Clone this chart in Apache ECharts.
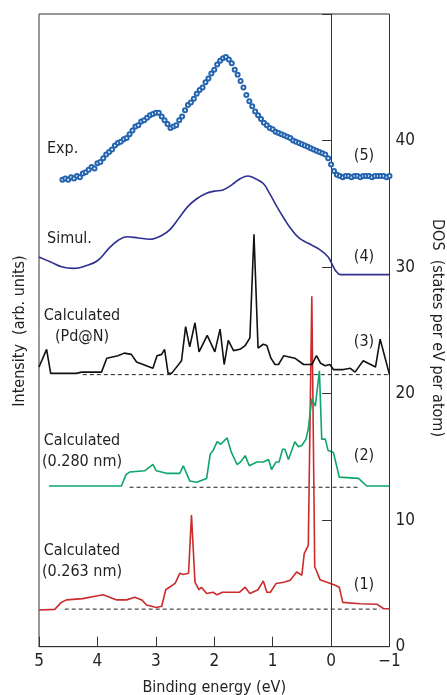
<!DOCTYPE html>
<html>
<head>
<meta charset="utf-8">
<script src="https://cdn.jsdelivr.net/npm/echarts@6/dist/echarts.min.js"></script>
<style>
html,body{margin:0;padding:0;background:#fff;}
#chart{width:447px;height:695px;}
</style>
</head>
<body>
<div id="chart"></div>
<script>
// ---------- DATA ----------
const xTicks = [5, 4, 3, 2, 1, 0, -1];
const yTicks = [0, 10, 20, 30, 40];

// (5) Experimental
const expX = [4.60,4.55,4.50,4.45,4.40,4.35,4.30,4.25,4.20,4.15,4.10,4.05,4.00,3.95,3.90,3.85,3.80,3.75,3.70,3.65,3.60,3.55,3.50,3.45,3.40,3.35,3.30,3.25,3.20,3.15,3.10,3.05,3.00,2.95,2.90,2.85,2.80,2.75,2.70,2.65,2.60,2.55,2.50,2.45,2.40,2.35,2.30,2.25,2.20,2.15,2.10,2.05,2.00,1.95,1.90,1.85,1.80,1.75,1.70,1.65,1.60,1.55,1.50,1.45,1.40,1.35,1.30,1.25,1.20,1.15,1.10,1.05,1.00,0.95,0.90,0.85,0.80,0.75,0.70,0.65,0.60,0.55,0.50,0.45,0.40,0.35,0.30,0.25,0.20,0.15,0.10,0.05,0.00,-0.05,-0.10,-0.15,-0.20,-0.25,-0.30,-0.35,-0.40,-0.45,-0.50,-0.55,-0.60,-0.65,-0.70,-0.75,-0.80,-0.85,-0.90,-0.95,-1.00];
const expY = [36.9,37.0,36.9,37.1,37.0,37.2,37.1,37.4,37.5,37.7,37.9,37.8,38.2,38.3,38.6,38.9,39.1,39.3,39.6,39.8,39.9,40.1,40.2,40.5,40.8,41.1,41.2,41.5,41.6,41.8,42.0,42.1,42.2,42.2,41.9,41.6,41.3,41.0,41.1,41.2,41.6,41.9,42.4,42.8,43.0,43.3,43.7,44.0,44.2,44.6,44.9,45.3,45.6,46.0,46.3,46.5,46.6,46.4,46.1,45.6,45.2,44.7,44.2,43.6,43.1,42.7,42.3,42.0,41.7,41.4,41.2,41.0,40.9,40.7,40.6,40.5,40.4,40.3,40.2,40.0,39.9,39.8,39.7,39.6,39.5,39.4,39.3,39.2,39.1,39.0,38.9,38.6,38.1,37.6,37.3,37.2,37.1,37.2,37.2,37.1,37.2,37.2,37.1,37.2,37.2,37.2,37.1,37.2,37.2,37.2,37.2,37.1,37.2];

// (4) Simulated
const simX = [5.0,4.8,4.6,4.4,4.2,4.0,3.8,3.65,3.5,3.3,3.1,2.9,2.75,2.6,2.45,2.3,2.15,2.0,1.85,1.7,1.55,1.42,1.3,1.16,1.05,0.93,0.8,0.7,0.55,0.4,0.2,0.05,-0.02,-0.08,-0.16,-0.3,-1.0];
const simY = [30.8,30.4,30.0,29.9,30.1,30.5,31.5,32.1,32.4,32.3,32.2,32.5,33.0,33.9,34.8,35.4,35.8,36.0,36.1,36.5,37.0,37.2,37.0,36.6,35.8,34.8,33.8,33.1,32.3,31.9,31.4,30.8,30.2,29.7,29.4,29.4,29.4];

// (3) Calculated (Pd@N)
const pdnX = [5.0,4.87,4.80,4.36,4.27,3.93,3.84,3.65,3.54,3.42,3.33,3.05,2.98,2.90,2.85,2.79,2.73,2.56,2.49,2.42,2.33,2.26,2.12,1.99,1.90,1.83,1.76,1.67,1.56,1.47,1.39,1.32,1.25,1.16,1.10,1.03,0.96,0.90,0.81,0.62,0.47,0.33,0.25,0.18,0.10,0.02,-0.04,-0.21,-0.33,-0.41,-0.55,-0.76,-0.84,-1.0];
const pdnY = [22.1,23.5,21.6,21.6,21.7,21.7,22.8,23.0,23.2,23.1,22.5,22.0,23.0,23.1,23.5,21.6,21.6,22.6,25.3,23.7,25.6,23.3,24.6,23.3,25.1,22.3,24.2,23.4,23.5,23.8,24.4,32.6,23.6,23.9,23.8,22.8,22.3,22.3,23.0,22.8,22.3,22.3,23.0,22.4,22.2,22.3,21.9,21.9,22.0,21.7,22.6,22.1,24.3,21.5];
const pdnBaseX = [4.25, -1.0];
const pdnBaseY = [21.5, 21.5];

// (2) Calculated (0.280 nm)
const c280X = [4.83,3.59,3.51,3.45,3.19,3.05,2.99,2.82,2.59,2.53,2.42,2.30,2.13,2.07,2.02,1.95,1.89,1.78,1.71,1.61,1.55,1.47,1.40,1.27,1.16,1.07,1.02,0.94,0.89,0.83,0.79,0.73,0.62,0.56,0.50,0.43,0.39,0.33,0.27,0.20,0.16,0.10,0.05,-0.04,-0.07,-0.14,-0.47,-0.61,-1.0];
const c280Y = [12.7,12.7,13.6,13.8,13.9,14.4,13.9,13.7,13.7,14.3,13.1,13.0,13.3,15.2,15.5,16.2,16.0,16.5,15.4,14.4,14.6,15.1,14.3,14.6,14.6,14.8,14.0,14.6,14.6,15.6,15.6,14.8,16.2,15.8,15.9,16.4,17.2,19.6,19.0,21.8,16.4,16.4,15.5,15.35,15.35,13.4,13.3,12.7,12.7];
const c280BaseX = [3.45, -0.50];
const c280BaseY = [12.6, 12.6];

// (1) Calculated (0.263 nm)
const c263X = [5.0,4.73,4.62,4.53,4.25,4.02,3.90,3.79,3.67,3.50,3.36,3.24,3.16,2.99,2.90,2.83,2.67,2.59,2.53,2.44,2.39,2.33,2.26,2.22,2.13,2.02,1.95,1.86,1.62,1.57,1.47,1.39,1.25,1.16,1.10,1.04,0.94,0.81,0.70,0.59,0.50,0.46,0.39,0.33,0.28,0.25,0.19,0.07,-0.07,-0.14,-0.20,-0.50,-0.79,-0.90,-1.0];
const c263Y = [2.9,2.95,3.5,3.7,3.8,4.0,4.1,3.9,3.7,3.7,3.9,3.7,3.3,3.1,3.2,4.5,5.0,5.8,5.7,5.8,10.4,5.1,4.5,4.7,4.2,4.3,4.1,4.3,4.3,4.3,4.7,4.2,4.5,5.2,4.3,4.3,5.0,5.1,5.25,5.9,5.65,7.35,8.0,27.7,6.3,6.0,5.3,5.1,4.85,4.7,3.5,3.4,3.35,3.0,3.0];
const c263BaseX = [4.56, -0.84];
const c263BaseY = [2.97, 2.97];

// ---------- CHART ----------
const zip = (a, b) => a.map((v, i) => [v, b[i]]);
const FONT = "'DejaVu Sans Condensed', 'Liberation Sans', sans-serif";
const TXT = '#231f20';

const chart = echarts.init(document.getElementById('chart'), null, {renderer: 'canvas'});

function lineSeries(name, data, color, width, z) {
  return {name, type: 'line', data, showSymbol: false, symbol: 'none',
    lineStyle: {color, width}, itemStyle: {color}, z: z || 2, animation: false, silent: true};
}
function baseSeries(data) {
  return {type: 'line', data, showSymbol: false, symbol: 'none',
    lineStyle: {color: '#222', width: 1, type: [4, 3]}, z: 1, animation: false, silent: true};
}

function txt(text, x, y, opts) {
  return Object.assign({type: 'text', x, y, style: Object.assign({
    text, fontSize: 16, fontFamily: FONT, fill: TXT, align: 'left', verticalAlign: 'middle'
  }, (opts && opts.style) || {})}, (opts && opts.el) || {});
}

const option = {
  backgroundColor: '#fff',
  animation: false,
  grid: {left: 39, right: 57.5, top: 14, bottom: 48.3, show: true, borderColor: '#333', borderWidth: 1,
    backgroundColor: 'transparent', containLabel: false, outerBoundsMode: 'none'},
  xAxis: {
    type: 'value', min: -1, max: 5, interval: 1, inverse: true,
    axisLine: {show: true, lineStyle: {color: '#333', width: 1}},
    axisTick: {show: true, inside: true, length: 10, lineStyle: {color: '#333'}},
    splitLine: {show: false},
    axisLabel: {fontSize: 17, fontFamily: FONT, color: TXT, margin: 6,
      formatter: v => (v < 0 ? '\u2212' + (-v) : String(v))},
    name: 'Binding energy (eV)', nameLocation: 'middle', nameGap: 33,
    nameTextStyle: {fontSize: 16, fontFamily: FONT, color: TXT, verticalAlign: 'top'}
  },
  yAxis: {
    type: 'value', position: 'right', min: 0, max: 50, interval: 10,
    axisLine: {show: true, lineStyle: {color: '#333', width: 1}},
    axisTick: {show: true, inside: true, length: 9, lineStyle: {color: '#333'}},
    splitLine: {show: false},
    axisLabel: {fontSize: 17, fontFamily: FONT, color: TXT, margin: 6,
      verticalAlignMinLabel: 'middle',
      formatter: v => (yTicks.indexOf(v) >= 0 ? String(v) : '')}
  },
  graphic: [
    txt('Exp.', 47, 149),
    txt('Simul.', 47, 239),
    txt('Calculated\n(Pd@N)', 82, 326, {style: {align: 'center', lineHeight: 21}}),
    txt('Calculated\n(0.280 nm)', 82, 451, {style: {align: 'center', lineHeight: 21}}),
    txt('Calculated\n(0.263 nm)', 82, 561, {style: {align: 'center', lineHeight: 21}}),
    txt('(5)', 364, 156, {style: {align: 'center'}}),
    txt('(4)', 364, 257, {style: {align: 'center'}}),
    txt('(3)', 364, 342, {style: {align: 'center'}}),
    txt('(2)', 364, 456, {style: {align: 'center'}}),
    txt('(1)', 364, 585, {style: {align: 'center'}}),
    txt('Intensity  (arb. units)', 20, 331, {style: {align: 'center', fontSize: 16}, el: {rotation: Math.PI / 2}}),
    txt('DOS  (states per eV per atom)', 437, 328, {style: {align: 'center', fontSize: 16}, el: {rotation: -Math.PI / 2}})
  ],
  series: [
    baseSeries(zip(c263BaseX, c263BaseY)),
    baseSeries(zip(c280BaseX, c280BaseY)),
    baseSeries(zip(pdnBaseX, pdnBaseY)),
    lineSeries('Calculated (0.263 nm)', zip(c263X, c263Y), '#cc2b2b', 1.6, 3),
    lineSeries('Calculated (0.280 nm)', zip(c280X, c280Y), '#0ea56a', 1.6, 4),
    Object.assign(lineSeries('Calculated (Pd@N)', zip(pdnX, pdnY), '#111111', 1.6, 5), {
      markLine: {silent: true, symbol: 'none', label: {show: false},
        lineStyle: {color: '#333', width: 1, type: 'solid'}, data: [{xAxis: 0}], animation: false}
    }),
    Object.assign(lineSeries('Simul.', zip(simX, simY), '#2e2f8f', 1.6, 6), {smooth: 0.4}),
    {name: 'Exp.', type: 'line', data: zip(expX, expY), symbol: 'emptyCircle', symbolSize: 4,
      showSymbol: true, lineStyle: {width: 0, opacity: 0},
      itemStyle: {color: '#2565b0', borderColor: '#2565b0', borderWidth: 1.1}, z: 7, animation: false, silent: true}
  ]
};
chart.setOption(option);
</script>
</body>
</html>
